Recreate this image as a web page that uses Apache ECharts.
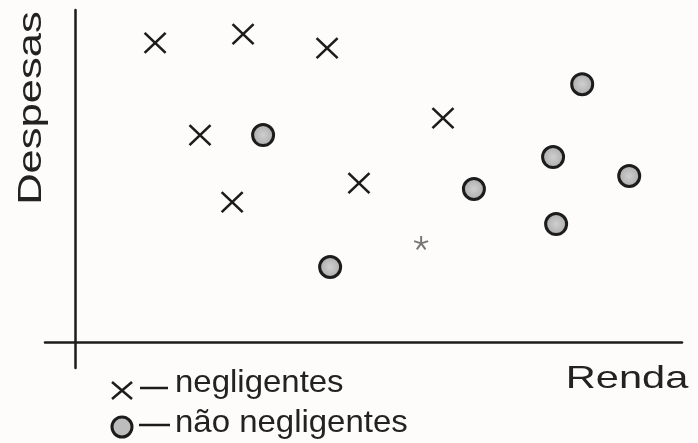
<!DOCTYPE html>
<html><head><meta charset="utf-8">
<script src="https://cdn.jsdelivr.net/npm/echarts@6/dist/echarts.min.js"></script>
<style>html,body{margin:0;padding:0;background:#fdfcfa}#c{width:698px;height:443px}</style>
</head><body><div id="c"></div>
<script>
// Data (arbitrary units; axes have no scale)
const negligentesX = [2.63, 5.53, 8.30, 4.11, 5.17, 12.12, 9.35];
const negligentesY = [11.71, 12.06, 11.51, 8.11, 5.49, 8.77, 6.23];
const naoNegligentesX = [6.19, 16.71, 15.75, 13.14, 18.26, 15.85, 8.40];
const naoNegligentesY = [8.11, 10.10, 7.25, 6.00, 6.51, 4.63, 2.95];
const novoX = [11.40];
const novoY = [3.90];
const seriesNames = ['negligentes', 'não negligentes'];
const axisTitles = ['Renda', 'Despesas'];

const zip = (xs, ys) => xs.map((x, i) => [x, ys[i]]);
const INK = '#1c1c1c';
const FONT = '"Liberation Sans", Arial, sans-serif';
const SX = 1.3;

const chart = echarts.init(document.getElementById('c'), null, {renderer: 'canvas'});
chart.setOption({
  animation: false,
  backgroundColor: '#fdfcfa',
  grid: {left: 45, right: 16, top: 10, bottom: 75},
  xAxis: {
    type: 'value', min: -1, max: 20,
    axisLine: {show: true, onZero: true, lineStyle: {color: INK, width: 2.5}},
    axisTick: {show: false}, axisLabel: {show: false}, splitLine: {show: false}
  },
  yAxis: {
    type: 'value', min: -1, max: 13,
    axisLine: {show: true, onZero: true, lineStyle: {color: INK, width: 2.5}},
    axisTick: {show: false}, axisLabel: {show: false}, splitLine: {show: false}
  },
  series: [
    {
      name: seriesNames[0], type: 'scatter',
      data: zip(negligentesX, negligentesY),
      symbol: 'path://M0,0L20,20M20,0L0,20', symbolSize: [21, 20],
      itemStyle: {color: 'rgba(0,0,0,0)', borderColor: INK, borderWidth: 2.5, opacity: 1}
    },
    {
      name: seriesNames[1], type: 'scatter',
      data: zip(naoNegligentesX, naoNegligentesY),
      symbol: 'circle', symbolSize: 21,
      itemStyle: {
        color: {type: 'radial', x: 0.5, y: 0.5, r: 0.5,
          colorStops: [{offset: 0, color: '#cfcfcf'}, {offset: 1, color: '#a9a9a9'}]},
        borderColor: INK, borderWidth: 3, opacity: 1
      }
    },
    {
      name: 'novo', type: 'scatter',
      data: zip(novoX, novoY),
      symbol: 'path://M10,10L10,0M10,10L19.51,6.91M10,10L15.88,18.09M10,10L4.12,18.09M10,10L0.49,6.91',
      symbolKeepAspect: true, symbolSize: 14,
      itemStyle: {color: 'rgba(0,0,0,0)', borderColor: '#777', borderWidth: 2, opacity: 1}
    }
  ],
  graphic: [
    {type: 'text', x: 32, y: 108, rotation: Math.PI / 2, scaleX: 1.32,
      style: {text: axisTitles[1], fontSize: 33, fontFamily: FONT, fill: '#222',
        align: 'center', verticalAlign: 'middle', textAlign: 'center', textVerticalAlign: 'middle'}},
    {type: 'text', x: 627, y: 379, scaleX: SX,
      style: {text: axisTitles[0], fontSize: 32, fontFamily: FONT, fill: '#222',
        align: 'center', verticalAlign: 'middle', textAlign: 'center', textVerticalAlign: 'middle'}},
    // legend
    {type: 'line', shape: {x1: 112, y1: 382, x2: 132, y2: 399}, style: {stroke: INK, lineWidth: 2.5}},
    {type: 'line', shape: {x1: 132, y1: 382, x2: 112, y2: 399}, style: {stroke: INK, lineWidth: 2.5}},
    {type: 'line', shape: {x1: 140, y1: 388, x2: 168, y2: 388}, style: {stroke: INK, lineWidth: 2.5}},
    {type: 'text', x: 175, y: 383, scaleX: 1.03,
      style: {text: seriesNames[0], fontSize: 32, fontFamily: FONT, fill: '#222',
        align: 'left', verticalAlign: 'middle', textAlign: 'left', textVerticalAlign: 'middle'}},
    {type: 'circle', shape: {cx: 122, cy: 427, r: 10},
      style: {fill: '#bdbdbd', stroke: INK, lineWidth: 3}},
    {type: 'line', shape: {x1: 139, y1: 425, x2: 170, y2: 425}, style: {stroke: INK, lineWidth: 2.5}},
    {type: 'text', x: 175, y: 423, scaleX: 1.03,
      style: {text: seriesNames[1], fontSize: 32, fontFamily: FONT, fill: '#222',
        align: 'left', verticalAlign: 'middle', textAlign: 'left', textVerticalAlign: 'middle'}}
  ]
});
</script>
</body></html>
